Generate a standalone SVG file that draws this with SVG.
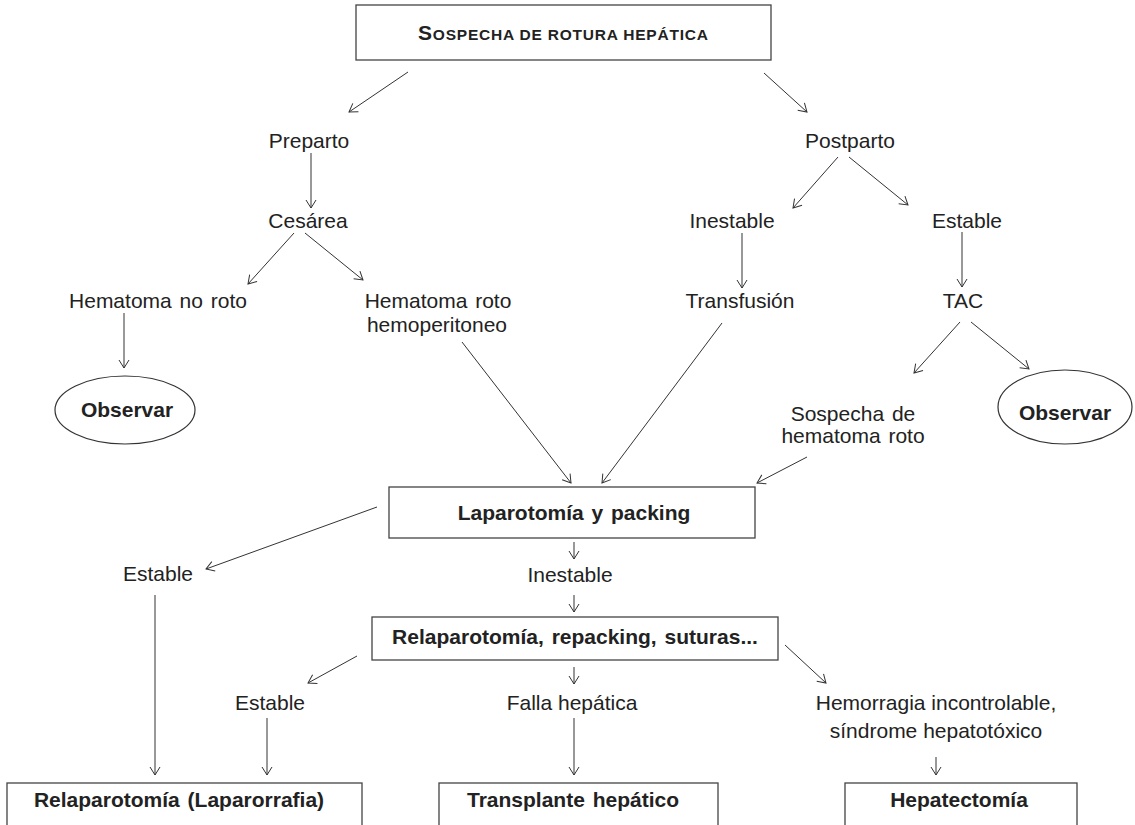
<svg xmlns="http://www.w3.org/2000/svg" width="1135" height="825" viewBox="0 0 1135 825">
<style>
text{font-family:"Liberation Sans",Arial,sans-serif;fill:#222;font-size:21px;text-anchor:middle}
.b{font-weight:bold}
.box{fill:#fff;stroke:#444;stroke-width:1.3}
.ell{fill:#fff;stroke:#333;stroke-width:1.2}
#connectors line{stroke:#333;stroke-width:1;marker-end:url(#a)}
</style>
<defs>
<marker id="a" viewBox="0 0 10 12" refX="9" refY="6" markerWidth="10" markerHeight="12" markerUnits="userSpaceOnUse" orient="auto">
<path d="M1,1 L9,6 L1,11" fill="none" stroke="#333" stroke-width="1"/>
</marker>
</defs>
<rect width="1135" height="825" fill="#fff"/>
<g id="connectors">
<line x1="408" y1="72" x2="349" y2="112"/>
<line x1="764" y1="73" x2="807" y2="112"/>
<line x1="311" y1="153" x2="311" y2="208"/>
<line x1="838" y1="157" x2="793" y2="208"/>
<line x1="849" y1="157" x2="908" y2="205"/>
<line x1="294" y1="233" x2="248" y2="284"/>
<line x1="305" y1="233" x2="363" y2="280"/>
<line x1="742" y1="233" x2="742" y2="288"/>
<line x1="962" y1="232" x2="962" y2="287"/>
<line x1="124" y1="313" x2="124" y2="368"/>
<line x1="960" y1="322" x2="914" y2="373"/>
<line x1="971" y1="322" x2="1029" y2="369"/>
<line x1="462" y1="342" x2="571" y2="483"/>
<line x1="722" y1="323" x2="602" y2="483"/>
<line x1="807" y1="457" x2="757" y2="483"/>
<line x1="377" y1="507" x2="206" y2="569"/>
<line x1="574" y1="542" x2="574" y2="559"/>
<line x1="574" y1="595" x2="574" y2="612"/>
<line x1="155" y1="595" x2="155" y2="775"/>
<line x1="357" y1="656" x2="308" y2="683"/>
<line x1="574" y1="667" x2="574" y2="684"/>
<line x1="785" y1="645" x2="826" y2="683"/>
<line x1="267" y1="718" x2="267" y2="775"/>
<line x1="574" y1="718" x2="574" y2="775"/>
<line x1="936" y1="757" x2="936" y2="775"/>
</g>
<g id="n-title"><rect class="box" x="356" y="5" width="415" height="55"/>
<text class="b" x="563" y="40" textLength="290" lengthAdjust="spacing"><tspan font-size="21">S</tspan><tspan font-size="15.5">OSPECHA DE ROTURA HEPÁTICA</tspan></text></g>
<g id="n-preparto"><text x="309" y="148">Preparto</text></g>
<g id="n-postparto"><text x="850" y="148">Postparto</text></g>
<g id="n-cesarea"><text x="308" y="228">Cesárea</text></g>
<g id="n-inestable1"><text x="732" y="228">Inestable</text></g>
<g id="n-estable1"><text x="967" y="228">Estable</text></g>
<g id="n-hnoroto"><text x="158" y="308" word-spacing="2">Hematoma no roto</text></g>
<g id="n-hroto"><text x="438" y="308" word-spacing="2">Hematoma roto</text><text x="437" y="332">hemoperitoneo</text></g>
<g id="n-transfusion"><text x="740" y="308">Transfusión</text></g>
<g id="n-tac"><text x="963" y="308">TAC</text></g>
<g id="n-obs1"><ellipse class="ell" cx="125" cy="410" rx="70" ry="34"/><text class="b" x="127" y="417">Observar</text></g>
<g id="n-obs2"><ellipse class="ell" cx="1065" cy="407" rx="67" ry="37"/><text class="b" x="1065" y="420">Observar</text></g>
<g id="n-sospecha"><text x="853" y="421" word-spacing="2">Sospecha de</text><text x="853" y="443" word-spacing="2">hematoma roto</text></g>
<g id="n-laparotomia"><rect class="box" x="389" y="487" width="366" height="51"/><text class="b" x="574" y="520" word-spacing="2">Laparotomía y packing</text></g>
<g id="n-estable2"><text x="158" y="581">Estable</text></g>
<g id="n-inestable2"><text x="570" y="582">Inestable</text></g>
<g id="n-relap"><rect class="box" x="372" y="617" width="406" height="43"/><text class="b" x="575" y="644" word-spacing="2">Relaparotomía, repacking, suturas...</text></g>
<g id="n-estable3"><text x="270" y="710">Estable</text></g>
<g id="n-falla"><text x="572" y="710">Falla hepática</text></g>
<g id="n-hemorragia"><text x="936" y="710">Hemorragia incontrolable,</text><text x="936" y="738">síndrome hepatotóxico</text></g>
<g id="n-laparorrafia"><rect class="box" x="7" y="783" width="355" height="60"/><text class="b" x="179" y="807" word-spacing="2">Relaparotomía (Laparorrafia)</text></g>
<g id="n-transplante"><rect class="box" x="439" y="783" width="279" height="60"/><text class="b" x="573" y="807" word-spacing="2">Transplante hepático</text></g>
<g id="n-hepatectomia"><rect class="box" x="845" y="783" width="232" height="60"/><text class="b" x="959" y="807">Hepatectomía</text></g>
</svg>
